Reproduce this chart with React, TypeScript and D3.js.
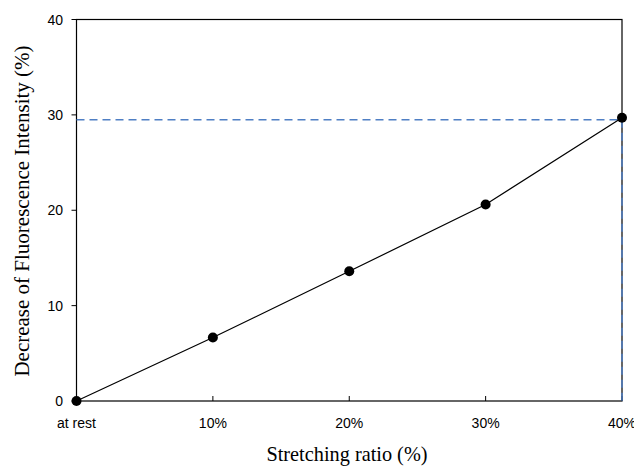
import React from "react";
import * as d3 from "d3";

const categories = ["at rest", "10%", "20%", "30%", "40%"];
const decrease = [0, 6.65, 13.6, 20.6, 29.7];
const yTicks = [0, 10, 20, 30, 40];
const refValue = 29.5;

const W = 634, H = 471;
const M = { left: 76.5, right: 622, top: 19.5, bottom: 401 };

export default function App() {
  const x = d3.scalePoint<string>().domain(categories).range([M.left, M.right]);
  const y = d3.scaleLinear().domain([0, 40]).range([M.bottom, M.top]);
  const line = d3
    .line<number>()
    .x((_, i) => x(categories[i]) as number)
    .y((d) => y(d));
  const lastX = x(categories[categories.length - 1]) as number;
  const blue = "#4f7fc4";
  return (
    <svg
      width={W}
      height={H}
      style={{ position: "absolute", left: 0, top: 0, background: "#fff" }}
    >
      <rect
        x={M.left}
        y={M.top}
        width={M.right - M.left}
        height={M.bottom - M.top}
        fill="none"
        stroke="#000"
        strokeWidth={1.2}
      />
      {yTicks.map((t) => (
        <g key={t}>
          <line x1={M.left - 5} x2={M.left} y1={y(t)} y2={y(t)} stroke="#000" strokeWidth={1} />
          <text
            x={63}
            y={y(t)}
            textAnchor="end"
            dominantBaseline="central"
            fontFamily="Liberation Sans, Arial, sans-serif"
            fontSize={14}
            fill="#000"
          >
            {t}
          </text>
        </g>
      ))}
      {categories.map((c) => (
        <g key={c}>
          <line x1={x(c)} x2={x(c)} y1={M.bottom} y2={M.bottom - 5} stroke="#000" strokeWidth={1} />
          <text
            x={x(c)}
            y={428}
            textAnchor="middle"
            fontFamily="Liberation Sans, Arial, sans-serif"
            fontSize={14}
            fill="#000"
          >
            {c}
          </text>
        </g>
      ))}
      <line
        x1={M.left}
        x2={lastX}
        y1={y(refValue)}
        y2={y(refValue)}
        stroke={blue}
        strokeWidth={1.5}
        strokeDasharray="8,5"
      />
      <line
        x1={lastX}
        x2={lastX}
        y1={y(refValue)}
        y2={M.bottom}
        stroke={blue}
        strokeWidth={1.5}
        strokeDasharray="8,5"
      />
      <path d={line(decrease) || ""} fill="none" stroke="#000" strokeWidth={1.2} />
      {decrease.map((v, i) => (
        <circle key={i} cx={x(categories[i])} cy={y(v)} r={5} fill="#000" />
      ))}
      <text
        x={347}
        y={461}
        textAnchor="middle"
        fontFamily="Liberation Serif, Times New Roman, serif"
        fontSize={20.3}
        fill="#000"
      >
        Stretching ratio (%)
      </text>
      <text
        transform={`translate(29, 211) rotate(-90)`}
        textAnchor="middle"
        fontFamily="Liberation Serif, Times New Roman, serif"
        fontSize={21}
        fill="#000"
      >
        Decrease of Fluorescence Intensity (%)
      </text>
    </svg>
  );
}
